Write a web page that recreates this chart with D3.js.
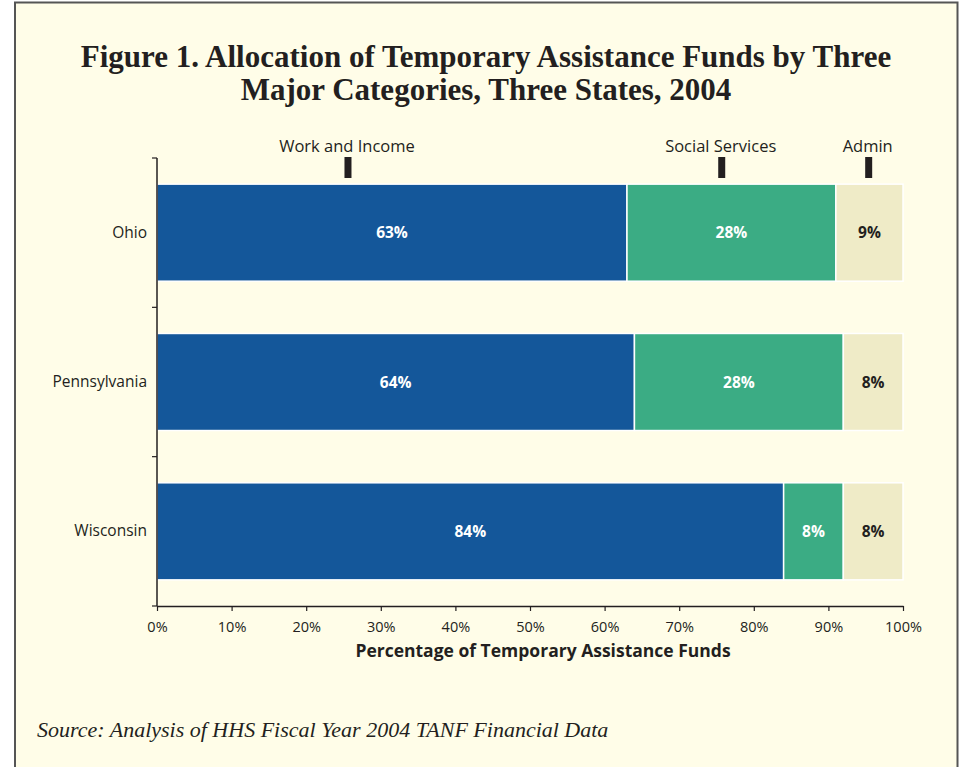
<!DOCTYPE html>
<html>
<head>
<meta charset="utf-8">
<script src="https://cdn.jsdelivr.net/npm/d3@7"></script>
<style>
  html, body { margin: 0; padding: 0; background: #ffffff; }
  svg { display: block; }
</style>
</head>
<body>
<svg id="chart" width="959" height="767"></svg>
<script>
const states = ["Ohio", "Pennsylvania", "Wisconsin"];
const categories = ["Work and Income", "Social Services", "Admin"];
const workIncome = [63, 64, 84];
const socialServices = [28, 28, 8];
const admin = [9, 8, 8];
const legendPositions = [25.6, 75.7, 95.4];
const xTicks = [0, 10, 20, 30, 40, 50, 60, 70, 80, 90, 100];
const titleLines = ["Figure 1. Allocation of Temporary Assistance Funds by Three", "Major Categories, Three States, 2004"];
const xAxisTitle = "Percentage of Temporary Assistance Funds";
const sourceText = "Source: Analysis of HHS Fiscal Year 2004 TANF Financial Data";

const colors = ["#14579a", "#3bac84", "#efebc7"];
const labelColors = ["#ffffff", "#ffffff", "#231f20"];
const sansFont = "'Open Sans', Lato, sans-serif";
const serifFont = "'Liberation Serif', 'DejaVu Serif', serif";

const svg = d3.select("#chart");

// background panel with border
svg.append("rect").attr("x", 0).attr("y", 0).attr("width", 959).attr("height", 767).attr("fill", "#ffffff");
svg.append("rect").attr("x", 15).attr("y", 2.5).attr("width", 942.5).attr("height", 780)
  .attr("fill", "#fffde8").attr("stroke", "#555555").attr("stroke-width", 2);

// title
svg.append("g").selectAll("text").data(titleLines).join("text")
  .attr("x", 486).attr("y", (d, i) => 67 + i * 33)
  .attr("text-anchor", "middle")
  .attr("font-family", serifFont).attr("font-weight", "bold").attr("font-size", 31)
  .attr("fill", "#231f20")
  .text(d => d);

const margin = { left: 157, right: 903, top: 158, bottom: 606 };
const x = d3.scaleLinear().domain([0, 100]).range([margin.left, margin.right]);
const y = d3.scaleBand().domain(states).range([margin.top, margin.bottom]).paddingInner(0.35).paddingOuter(0.175);

const rows = states.map((s, i) => {
  const vals = [workIncome[i], socialServices[i], admin[i]];
  let acc = 0;
  return vals.map((v, k) => { const seg = { state: s, k, v, x0: acc, x1: acc + v }; acc += v; return seg; });
});
const segs = rows.flat();

svg.append("g").selectAll("rect").data(segs).join("rect")
  .attr("x", d => x(d.x0))
  .attr("y", d => y(d.state))
  .attr("width", d => x(d.x1) - x(d.x0))
  .attr("height", y.bandwidth())
  .attr("fill", d => colors[d.k])
  .attr("stroke", "#ffffff").attr("stroke-width", 1.5);

svg.append("g").selectAll("text").data(segs).join("text")
  .attr("x", d => (x(d.x0) + x(d.x1)) / 2)
  .attr("y", d => y(d.state) + y.bandwidth() / 2 + 5.5)
  .attr("text-anchor", "middle")
  .attr("font-family", sansFont).attr("font-weight", "bold").attr("font-size", 15.5)
  .attr("fill", d => labelColors[d.k])
  .text(d => d.v + "%");

// y axis
const yAxisG = svg.append("g").attr("transform", `translate(${margin.left},0)`);
yAxisG.append("line").attr("x1", 0).attr("x2", 0).attr("y1", margin.top).attr("y2", margin.bottom)
  .attr("stroke", "#231f20").attr("stroke-width", 1.5);
const yBoundaries = [margin.top, ...states.slice(1).map(s => y(s) - y.step() * y.paddingInner() / 2), margin.bottom];
yAxisG.selectAll("line.tick").data(yBoundaries).join("line").attr("class", "tick")
  .attr("x1", -5).attr("x2", 0).attr("y1", d => d).attr("y2", d => d)
  .attr("stroke", "#231f20").attr("stroke-width", 1.2);
yAxisG.selectAll("text").data(states).join("text")
  .attr("x", -10).attr("y", d => y(d) + y.bandwidth() / 2 + 5)
  .attr("text-anchor", "end")
  .attr("font-family", sansFont).attr("font-size", 15.5).attr("fill", "#231f20")
  .text(d => d);

// x axis
const xAxis = d3.axisBottom(x).tickValues(xTicks).tickFormat(d => d + "%").tickSizeInner(5).tickSizeOuter(0);
const xAxisG = svg.append("g").attr("transform", `translate(0,${margin.bottom})`).call(xAxis);
xAxisG.select(".domain").attr("stroke", "#231f20").attr("stroke-width", 1.5);
xAxisG.selectAll(".tick line").attr("stroke", "#231f20").attr("stroke-width", 1.2);
xAxisG.selectAll(".tick text").attr("font-family", sansFont).attr("font-size", 14.5)
  .attr("fill", "#231f20").attr("dy", 0).attr("y", 26);

svg.append("text").attr("x", 543).attr("y", 657).attr("text-anchor", "middle")
  .attr("font-family", sansFont).attr("font-weight", "bold").attr("font-size", 17.5).attr("fill", "#231f20")
  .text(xAxisTitle);

// legend
const lg = svg.append("g");
lg.selectAll("rect").data(categories).join("rect")
  .attr("x", (d, i) => x(legendPositions[i]) - 3.5).attr("y", 157).attr("width", 7).attr("height", 21)
  .attr("fill", "#231f20");
lg.selectAll("text").data(categories).join("text")
  .attr("x", (d, i) => x(legendPositions[i]) - 1).attr("y", 152).attr("text-anchor", "middle")
  .attr("font-family", sansFont).attr("font-size", 16.5).attr("fill", "#231f20")
  .text(d => d);

// source
svg.append("text").attr("x", 37).attr("y", 737)
  .attr("font-family", serifFont).attr("font-style", "italic").attr("font-size", 22).attr("fill", "#231f20")
  .text(sourceText);
</script>
</body>
</html>
